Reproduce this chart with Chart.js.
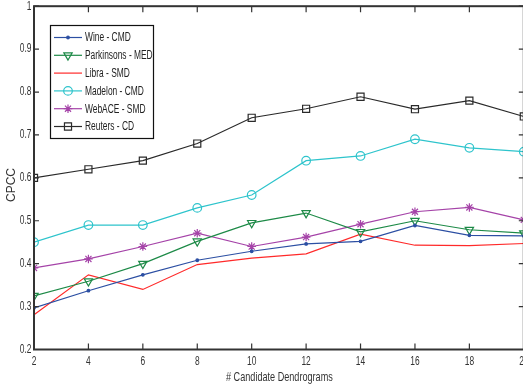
<!DOCTYPE html>
<html>
<head>
<meta charset="utf-8">
<script src="https://cdn.jsdelivr.net/npm/chart.js@4/dist/chart.umd.min.js"></script>
<style>
  html, body { margin: 0; padding: 0; background: #fff; overflow: hidden; }
  #wrap { width: 523px; height: 384px; overflow: hidden; }
  #box { width: 530px; height: 384px; }
</style>
</head>
<body>
<div id="wrap"><div id="box"><canvas id="chart"></canvas></div></div>
<script>
// x values: number of candidate dendrograms
const candidates = [2, 4, 6, 8, 10, 12, 14, 16, 18, 20];

// CPCC values per dataset
const wine       = [0.297, 0.337, 0.374, 0.408, 0.429, 0.446, 0.452, 0.489, 0.466, 0.465];
const parkinsons = [0.325, 0.359, 0.400, 0.452, 0.495, 0.518, 0.474, 0.500, 0.479, 0.471];
const libra      = [0.281, 0.374, 0.340, 0.398, 0.413, 0.423, 0.469, 0.443, 0.442, 0.447];
const madelon    = [0.450, 0.490, 0.490, 0.530, 0.560, 0.640, 0.651, 0.690, 0.670, 0.661];
const webace     = [0.390, 0.411, 0.440, 0.471, 0.440, 0.462, 0.492, 0.521, 0.531, 0.502];
const reuters    = [0.600, 0.620, 0.640, 0.680, 0.740, 0.761, 0.789, 0.760, 0.780, 0.743];

const xTicks = [2, 4, 6, 8, 10, 12, 14, 16, 18, 20];
const yTicks = [0.2, 0.3, 0.4, 0.5, 0.6, 0.7, 0.8, 0.9, 1];
const xTitle = '# Candidate Dendrograms';
const yTitle = 'CPCC';

const FONT = "'Liberation Sans', Arial, sans-serif";
const INK = '#333';
const SQUEEZE = 0.7; // the original uses a condensed face

function pts(values) {
    return values.map((v, i) => ({ x: candidates[i], y: v }));
}

function series(label, values, color, style, radius, rotation) {
    return {
        label: label,
        data: pts(values),
        borderColor: color,
        backgroundColor: color,
        borderWidth: 1.2,
        pointStyle: style,
        pointRadius: radius,
        pointRotation: rotation || 0,
        pointBorderColor: color,
        pointBackgroundColor: style === 'circle' && radius < 2 ? color : 'rgba(0,0,0,0)',
        pointBorderWidth: 1.2,
        tension: 0
    };
}

const datasets = [
    series('Wine - CMD', wine, '#2c4fa3', 'circle', 1.3),
    series('Parkinsons - MED', parkinsons, '#1d8a47', 'triangle', 4.8, 180),
    series('Libra - SMD', libra, '#ff2a2a', false, 0),
    series('Madelon - CMD', madelon, '#2ec4cc', 'circle', 4.3),
    series('WebACE - SMD', webace, '#a543a8', 'star', 4.3),
    series('Reuters - CD', reuters, '#2a2a2a', 'rect', 5)
];

// draw text squeezed horizontally
function narrowText(ctx, text, x, y, align, size) {
    ctx.save();
    ctx.font = size + 'px ' + FONT;
    ctx.textBaseline = 'middle';
    ctx.textAlign = align;
    ctx.translate(x, y);
    ctx.scale(SQUEEZE, 1);
    ctx.fillText(text, 0, 0);
    ctx.restore();
}

// Frame with inward ticks, tick labels and titles, matlab style
const framePlugin = {
    id: 'frame',
    afterDatasetsDraw(chart) {
        const { ctx, chartArea: a, scales } = chart;
        ctx.save();
        ctx.strokeStyle = INK;
        ctx.fillStyle = INK;
        ctx.lineWidth = 1.2;
        xTicks.forEach(t => {
            const px = scales.x.getPixelForValue(t);
            ctx.beginPath();
            ctx.moveTo(px, a.bottom); ctx.lineTo(px, a.bottom - 6);
            ctx.moveTo(px, a.top); ctx.lineTo(px, a.top + 6);
            ctx.stroke();
            narrowText(ctx, String(t), px, a.bottom + 12.5, 'center', 12);
        });
        yTicks.forEach(t => {
            const py = scales.y.getPixelForValue(t);
            ctx.beginPath();
            ctx.moveTo(a.left, py); ctx.lineTo(a.left + 5, py);
            ctx.moveTo(a.right, py); ctx.lineTo(a.right - 5, py);
            ctx.stroke();
            narrowText(ctx, String(t), a.left - 2.5, py, 'right', 12);
        });
        ctx.lineWidth = 2;
        ctx.strokeRect(a.left, a.top, a.right - a.left, a.bottom - a.top);

        narrowText(ctx, xTitle, (a.left + a.right) / 2 + 0.5, 377, 'center', 13);
        ctx.save();
        ctx.translate(12, 185);
        ctx.rotate(-Math.PI / 2);
        ctx.font = '12px ' + FONT;
        ctx.textAlign = 'center';
        ctx.textBaseline = 'middle';
        ctx.fillText(yTitle, 0, 0);
        ctx.restore();
        ctx.restore();
    }
};

// Boxed legend inside the top-left of the axes
const legendPlugin = {
    id: 'boxLegend',
    afterDatasetsDraw(chart) {
        const ctx = chart.ctx;
        const x0 = 50, y0 = 25, w = 103, h = 113;
        ctx.save();
        ctx.fillStyle = '#fff';
        ctx.fillRect(x0, y0, w, h);
        ctx.strokeStyle = '#111';
        ctx.lineWidth = 1.2;
        ctx.strokeRect(x0 + 0.5, y0 + 0.5, w, h);
        chart.data.datasets.forEach((ds, i) => {
            const y = y0 + 12.5 + i * 17.8;
            ctx.strokeStyle = ds.borderColor;
            ctx.lineWidth = 1.2;
            ctx.beginPath();
            ctx.moveTo(x0 + 4, y); ctx.lineTo(x0 + 32, y);
            ctx.stroke();
            if (ds.pointStyle) {
                ctx.fillStyle = ds.pointBackgroundColor;
                Chart.helpers.drawPoint(ctx, {
                    pointStyle: ds.pointStyle,
                    radius: ds.pointRadius,
                    rotation: ds.pointRotation,
                    borderWidth: 1.2
                }, x0 + 18, y);
            }
            ctx.fillStyle = '#222';
            narrowText(ctx, ds.label, x0 + 35, y + 0.5, 'left', 12);
        });
        ctx.restore();
    }
};

new Chart(document.getElementById('chart'), {
    type: 'line',
    data: { datasets: datasets },
    plugins: [framePlugin, legendPlugin],
    options: {
        responsive: true,
        maintainAspectRatio: false,
        animation: false,
        layout: { padding: { top: 6, right: 5.5, left: 0, bottom: 0 } },
        plugins: { legend: { display: false }, tooltip: { enabled: false } },
        scales: {
            x: {
                type: 'linear',
                min: 2,
                max: 20,
                grid: { display: false },
                border: { display: false },
                afterFit: scale => { scale.height = 34.5; },
                ticks: { display: false }
            },
            y: {
                min: 0.2,
                max: 1,
                grid: { display: false },
                border: { display: false },
                afterFit: scale => { scale.width = 34; },
                ticks: { display: false }
            }
        }
    }
});
</script>
</body>
</html>
